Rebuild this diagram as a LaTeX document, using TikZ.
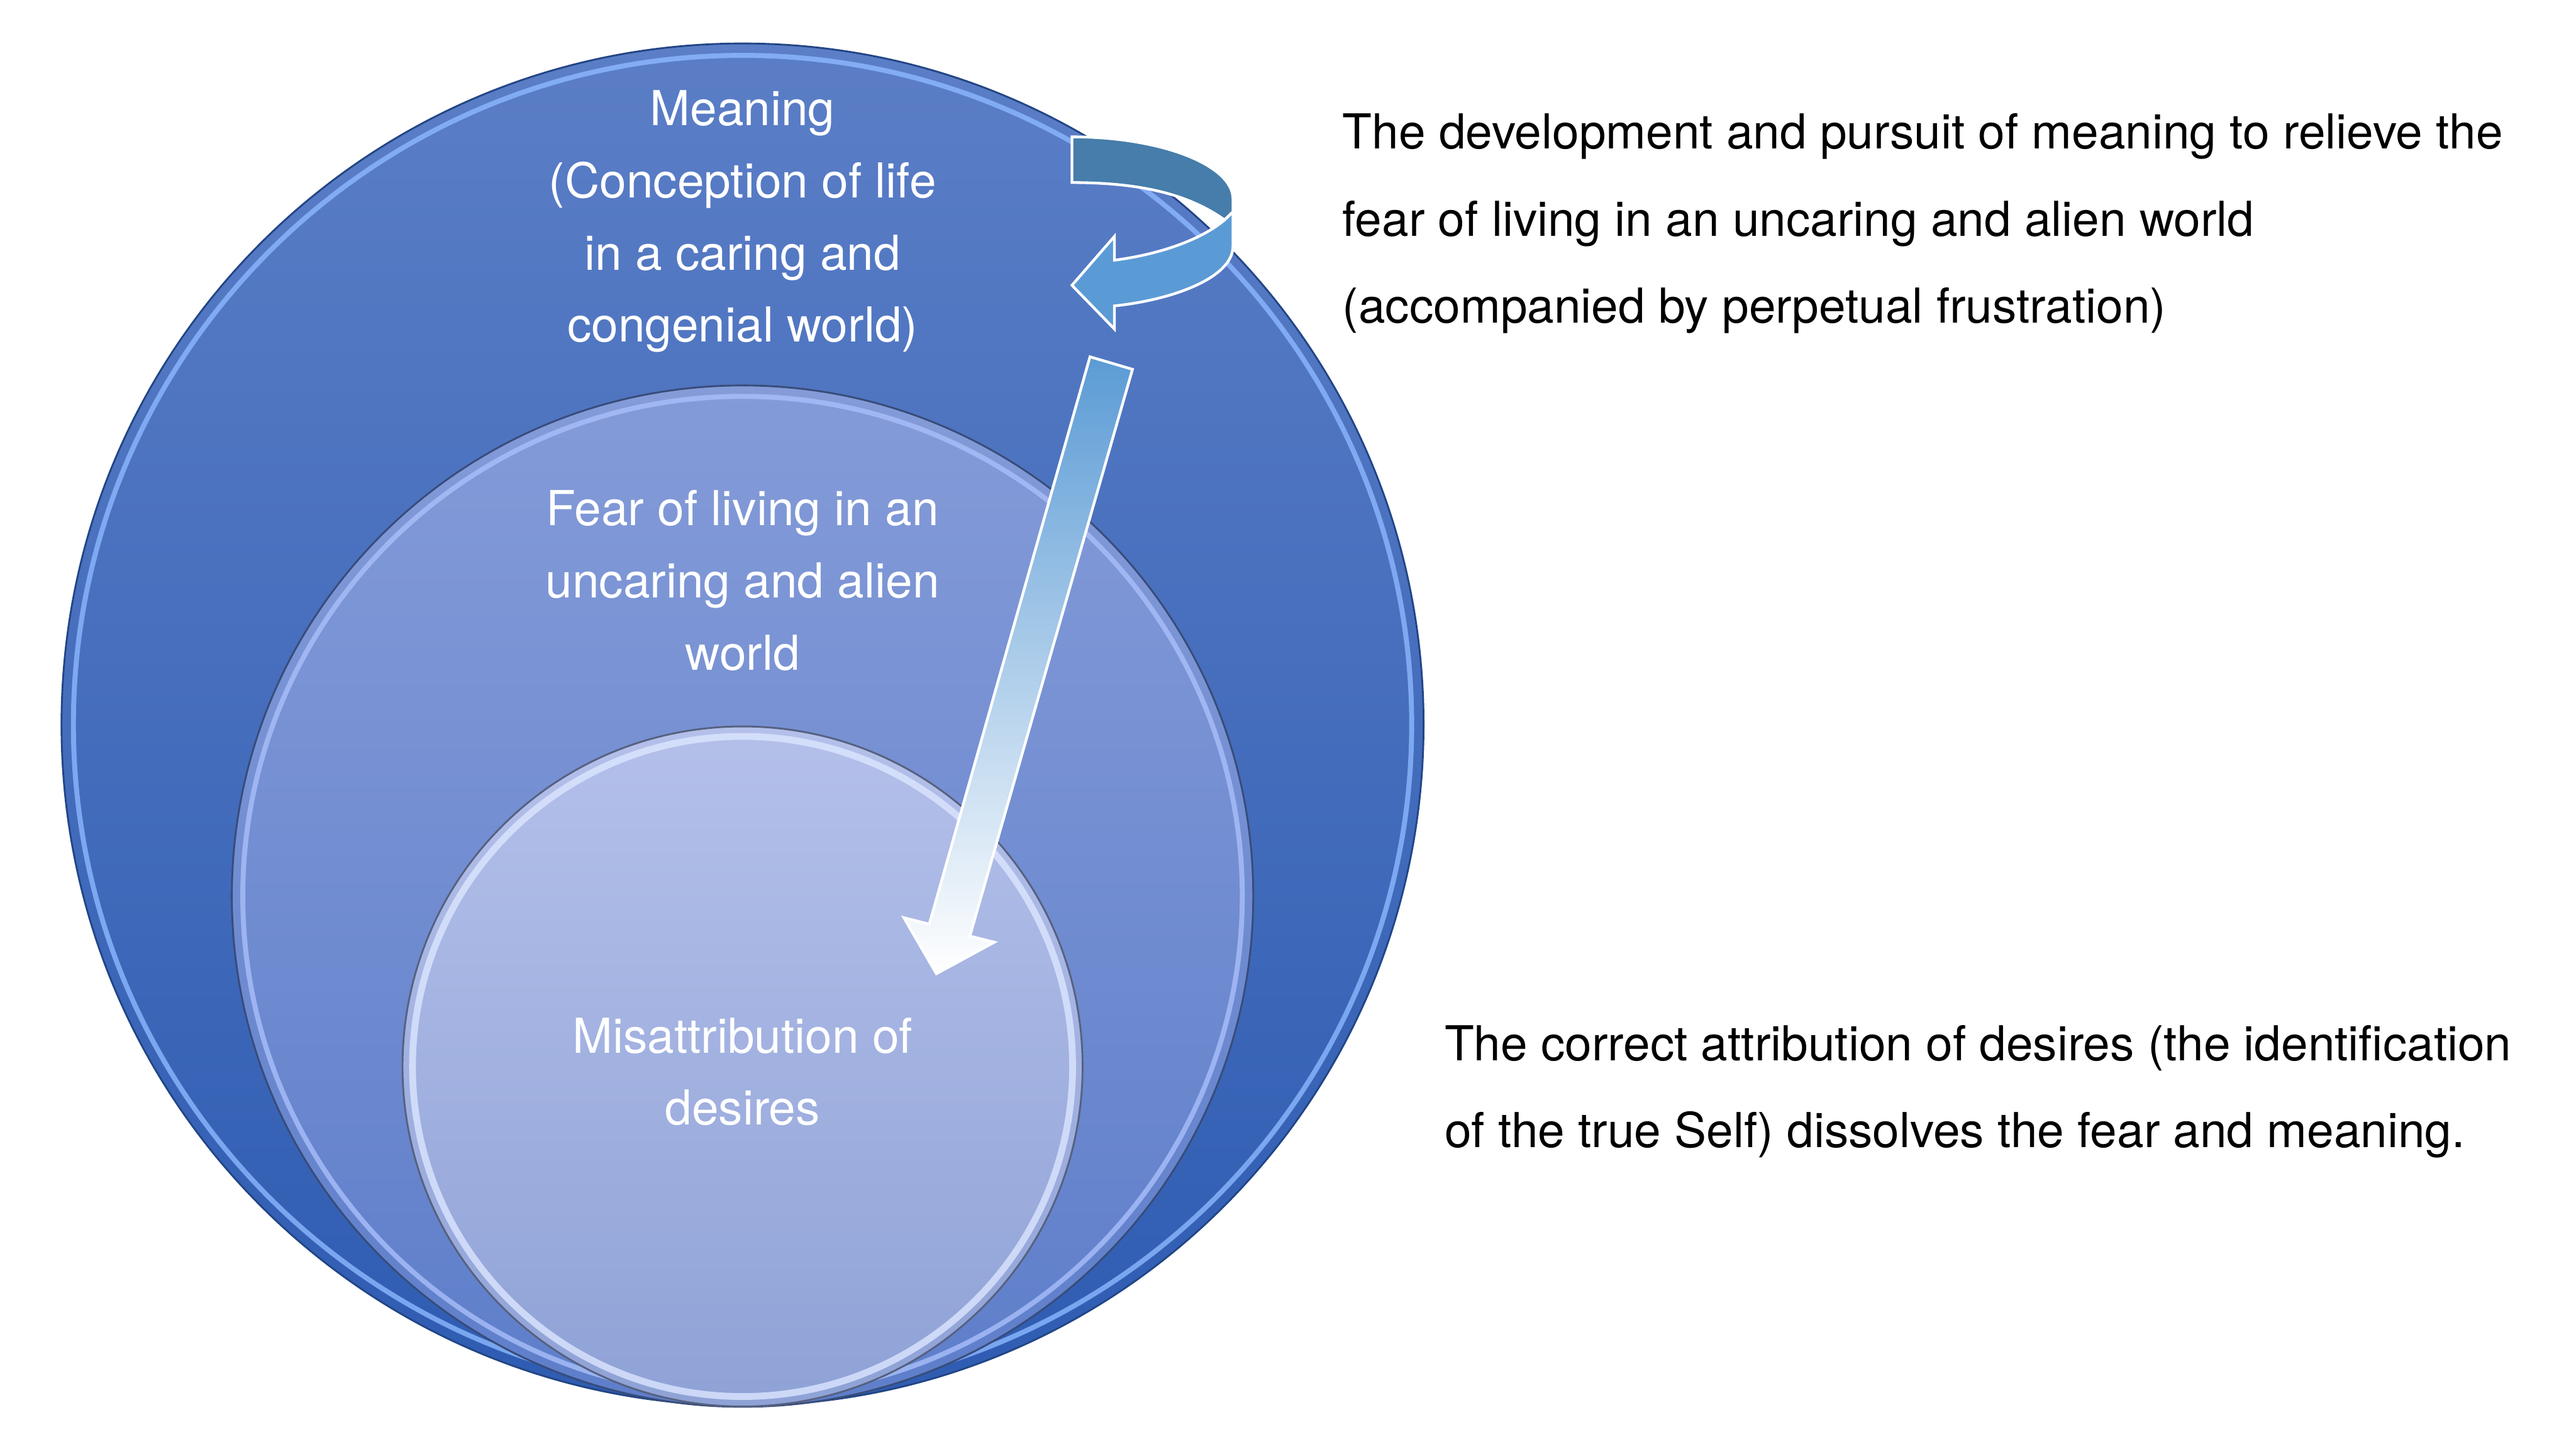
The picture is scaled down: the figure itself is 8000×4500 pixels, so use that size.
\documentclass[tikz,border=0pt]{standalone}
\usepackage{fontspec}
\setmainfont{TeX Gyre Heros}
\usetikzlibrary{positioning}
\definecolor{OuterTop}{HTML}{5B7EC6}
\definecolor{OuterBot}{HTML}{2E5CB2}
\definecolor{MidTop}{HTML}{849BD8}
\definecolor{MidBot}{HTML}{5E7ECA}
\definecolor{InTop}{HTML}{B4C0EA}
\definecolor{InBot}{HTML}{8FA2D6}
\definecolor{RimOuter}{HTML}{8CB8FF}
\definecolor{RimMid}{HTML}{A9BFFA}
\definecolor{RimIn}{HTML}{DCE6FF}
\definecolor{RibbonDark}{HTML}{467DAA}
\definecolor{RibbonLight}{HTML}{5B9BD5}
\tikzset{
 rim/.style={draw=#1,opacity=.8,line width=2.2pt},
 edge/.style={draw=#1,line width=.8pt},
 inlabel/.style={text=white,align=center,inner sep=0pt,font=\fontsize{21.3}{31.9}\selectfont},
 note/.style={text=black,align=left,anchor=west,inner sep=0pt,font=\fontsize{21.3}{38.4}\selectfont},
 ribbon/.style={draw=white,line width=1.2pt,line join=miter}
}
\begin{document}
\begin{tikzpicture}[x=0.005cm,y=-0.005cm]
\useasboundingbox (0,0) rectangle (8000,4500);
% nested circles
\coordinate (outer) at (2306,2250);
\coordinate (middle) at (2306,2783);
\coordinate (inner) at (2306,3312);
\shade[top color=OuterTop,bottom color=OuterBot] (outer) circle (2115);
\draw[edge=OuterBot!75!black] (outer) circle (2115);
\draw[rim=RimOuter] (outer) circle (2078);
\shade[top color=MidTop,bottom color=MidBot] (middle) circle (1586);
\draw[edge=MidBot!60!black] (middle) circle (1586);
\draw[rim=RimMid] (middle) circle (1552);
\shade[top color=InTop,bottom color=InBot] (inner) circle (1056);
\draw[edge=InBot!60!black] (inner) circle (1056);
\draw[rim=RimIn,line width=3pt] (inner) circle (1025);
% labels
\node[inlabel] (meaning) at (2306,688) {Meaning\\(Conception of life\\in a caring and\\congenial world)};
\node[inlabel] (fear) at (2306,1803) {Fear of living in an\\uncaring and alien\\world};
\node[inlabel] (misattr) at (2306,3328) {Misattribution of\\desires};
\node[note] (pursuit) at (4168,694) {The development and pursuit of meaning to relieve the\\fear of living in an uncaring and alien world\\(accompanied by perpetual frustration)};
\node[note] (correct) at (4485,3390) {The correct attribution of desires (the identification\\of the true Self) dissolves the fear and meaning.};
% curved arrow
\filldraw[ribbon,fill=RibbonDark] (3329,425) .. controls (3605,425) and (3829,512) .. (3829,618)
 -- (3829,658) -- (3803,683) .. controls (3700,610) and (3560,567) .. (3329,567) -- cycle;
\filldraw[ribbon,fill=RibbonLight] (3829,658) -- (3829,765) .. controls (3829,860) and (3650,930) .. (3461,950)
 -- (3461,1022) -- (3329,886) -- (3461,734) -- (3461,808) .. controls (3600,790) and (3730,745) .. (3803,683) -- cycle;
% straight arrow
\shade[top color=RibbonLight,bottom color=white] (3385,1108) -- (3517,1147) -- (3012,2907) -- (3088,2926)
 -- (2908,3024) -- (2807,2850) -- (2886,2870) -- cycle;
\draw[ribbon] (3385,1108) -- (3517,1147) -- (3012,2907) -- (3088,2926)
 -- (2908,3024) -- (2807,2850) -- (2886,2870) -- cycle;
\end{tikzpicture}
\end{document}
